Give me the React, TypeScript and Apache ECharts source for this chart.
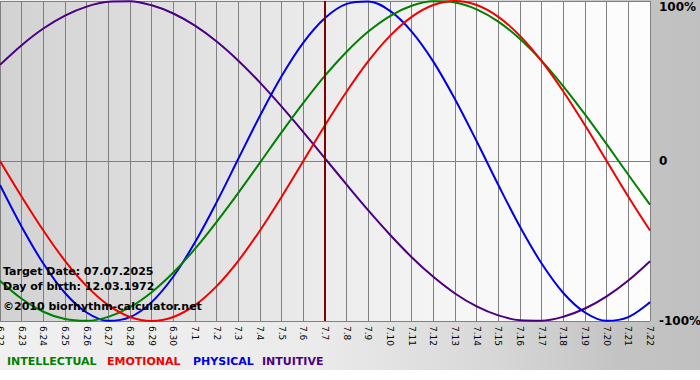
import React, { useEffect, useRef } from "react";
import * as echarts from "echarts";

const days: string[] = [
  "6.22", "6.23", "6.24", "6.25", "6.26", "6.27", "6.28", "6.29", "6.30",
  "7.1", "7.2", "7.3", "7.4", "7.5", "7.6", "7.7", "7.8", "7.9", "7.10",
  "7.11", "7.12", "7.13", "7.14", "7.15", "7.16", "7.17", "7.18", "7.19",
  "7.20", "7.21", "7.22",
];

const intellectual: number[] = [
  -74.9, -86.1, -94.2, -98.8, -99.9, -97.4, -91.4, -82.0, -69.7, -54.9, -38.0,
  -19.9, -1.0, 18.0, 36.3, 53.3, 68.3, 80.9, 90.6, 97.0, 99.8, 99.1, 94.8,
  87.1, 76.2, 62.6, 46.7, 29.1, 10.5, -8.6, -27.3,
];

const emotional: number[] = [
  0, -22.3, -43.4, -62.4, -78.2, -90.1, -97.5, -100, -97.5, -90.1, -78.2,
  -62.4, -43.4, -22.3, 0, 22.3, 43.4, 62.4, 78.2, 90.1, 97.5, 100, 97.5, 90.1,
  78.2, 62.4, 43.4, 22.3, 0, -22.3, -43.4,
];

const physical: number[] = [
  -15.0, -41.1, -64.1, -82.5, -94.7, -99.9, -97.6, -88.2, -72.2, -50.8, -25.7,
  1.4, 28.3, 53.1, 74.0, 89.4, 98.2, 99.7, 93.8, 80.9, 62.1, 38.6, 12.3, -15.0,
  -41.1, -64.1, -82.5, -94.7, -99.9, -97.6, -88.2,
];

const intuitive: number[] = [
  60.1, 72.4, 82.8, 90.9, 96.5, 99.5, 99.8, 97.3, 92.2, 84.6, 74.7, 62.7, 49.0,
  34.0, 18.1, 1.7, -14.8, -30.9, -46.1, -60.1, -72.4, -82.8, -90.9, -96.5,
  -99.5, -99.8, -97.3, -92.2, -84.6, -74.7, -62.7,
];

const targetDay = "7.7";
const yTicks: number[] = [-100, 0, 100];
const legendNames: string[] = ["INTELLECTUAL", "EMOTIONAL", "PHYSICAL", "INTUITIVE"];
const infoLines: string[] = [
  "Target Date: 07.07.2025",
  "Day of birth: 12.03.1972",
  "\u00a92010 biorhythm-calculator.net",
];

const COLORS = {
  intellectual: "#008000",
  emotional: "#f00000",
  physical: "#0000e6",
  intuitive: "#4b0082",
};

export default function App() {
  const ref = useRef<HTMLDivElement>(null);

  useEffect(() => {
    if (!ref.current) return;
    const chart = echarts.init(ref.current, undefined, { renderer: "svg" });
    const font = "'DejaVu Sans', Verdana, sans-serif";
    const lineSeries = (name: string, data: number[], color: string, extra: any = {}) => ({
      name,
      type: "line",
      data,
      smooth: 0.35,
      symbol: "none",
      lineStyle: { color, width: 2 },
      itemStyle: { color },
      z: 3,
      ...extra,
    });
    const legendColors = [COLORS.intellectual, COLORS.emotional, COLORS.physical, COLORS.intuitive];
    const legendX = [7, 107, 193, 262];
    chart.setOption({
      animation: false,
      grid: {
        left: 0,
        right: 50,
        top: 1,
        bottom: 59,
        containLabel: false,
        outerBoundsMode: "none",
        show: true,
        borderWidth: 0,
        backgroundColor: new echarts.graphic.LinearGradient(0, 0, 1, 0, [
          { offset: 0, color: "#d2d2d2" },
          { offset: 0.45, color: "#e9e9e9" },
          { offset: 0.75, color: "#f8f8f8" },
          { offset: 1, color: "#fdfdfd" },
        ]),
      },
      xAxis: {
        type: "category",
        data: days,
        boundaryGap: false,
        axisLine: { show: true, lineStyle: { color: "#808080", width: 1 } },
        axisTick: { show: true, length: 4, interval: 0, lineStyle: { color: "#808080" } },
        splitLine: { show: true, interval: 0, lineStyle: { color: "#808080", width: 1 } },
        axisLabel: {
          interval: 0,
          rotate: -90,
          margin: 5,
          color: "#000",
          fontSize: 9,
          fontFamily: font,
          hideOverlap: false,
        },
      },
      yAxis: {
        type: "value",
        position: "right",
        min: -100,
        max: 100,
        interval: 100,
        axisLine: { show: false },
        axisTick: { show: false },
        splitLine: { show: true, lineStyle: { color: "#808080", width: 1 } },
        axisLabel: {
          margin: 9,
          color: "#000",
          fontSize: 12,
          fontWeight: "bold",
          fontFamily: font,
          formatter: (v: number) => {
            if (v === yTicks[2]) return "{top|" + v + "%}";
            if (v === yTicks[1]) return "0";
            return v + "%";
          },
          rich: {
            top: {
              padding: [12, 0, 0, 0],
              fontSize: 12,
              fontWeight: "bold",
              fontFamily: font,
              color: "#000",
            },
          },
        },
      },
      series: [
        lineSeries(legendNames[3], intuitive, COLORS.intuitive),
        lineSeries(legendNames[2], physical, COLORS.physical),
        lineSeries(legendNames[0], intellectual, COLORS.intellectual),
        lineSeries(legendNames[1], emotional, COLORS.emotional, {
          markLine: {
            silent: true,
            symbol: "none",
            label: { show: false },
            lineStyle: { color: "#800000", width: 2, type: "solid" },
            data: [{ xAxis: targetDay }],
            z: 5,
          },
        }),
      ],
      graphic: [
        ...infoLines.map((t, i) => ({
          type: "text",
          left: 3,
          top: [266, 281, 301][i],
          z: 10,
          style: {
            text: t,
            fill: "#000",
            font: "bold 11px " + font,
          },
        })),
        ...legendNames.map((t, i) => ({
          type: "text",
          left: legendX[i],
          top: 356,
          z: 10,
          style: {
            text: t,
            fill: legendColors[i],
            font: "bold 11px " + font,
          },
        })),
      ],
    });
    return () => chart.dispose();
  }, []);

  return (
    <div style={{ position: "absolute", left: 0, top: 0, width: 700, height: 380, background: "#fff" }}>
      <div
        style={{
          position: "absolute",
          left: 0,
          top: 0,
          width: 700,
          height: 370,
          background:
            "linear-gradient(to right, #f0f0f0 0%, #ebebeb 45%, #d8d8d8 70%, #c4c4c4 88%, #c0c0c0 100%)",
        }}
      />
      <div ref={ref} style={{ position: "absolute", left: 0, top: 0, width: 700, height: 380 }} />
    </div>
  );
}
